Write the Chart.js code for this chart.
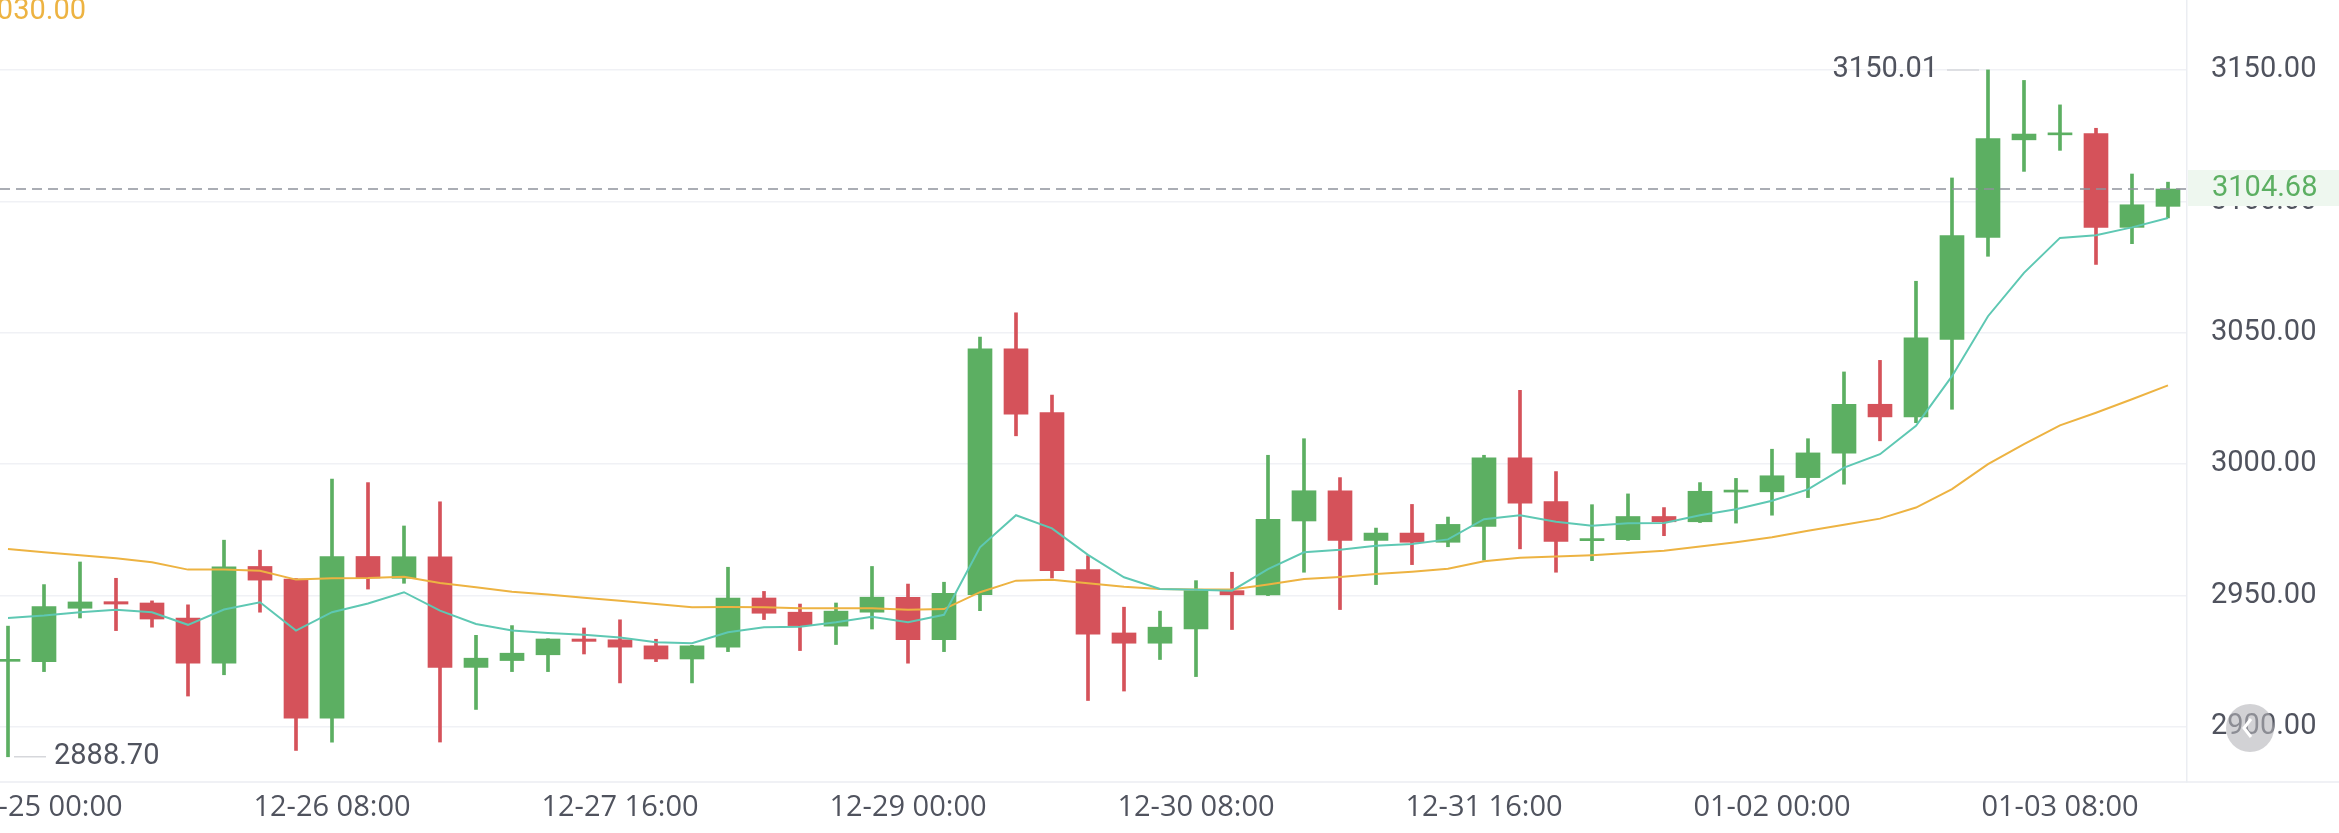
<!DOCTYPE html>
<html>
<head>
<meta charset="utf-8">
<title>K-line 4H</title>
<script src="https://cdn.jsdelivr.net/npm/chart.js@4.4.1/dist/chart.umd.min.js"></script>
<style>
  html, body { margin: 0; padding: 0; background: #fff; overflow: hidden; }
</style>
</head>
<body>
<canvas id="kline" width="2339" height="833"></canvas>
<script>
    // 4h candles, 12-24 20:00 -> 01-03 20:00
    const times = [];
    const start = new Date(2023, 11, 24, 20, 0);
    for (let i = 0; i < 61; i++) {
        const d = new Date(start.getTime() + i * 4 * 3600 * 1000);
        const p = n => (n < 10 ? '0' : '') + n;
        times.push(`${p(d.getMonth() + 1)}-${p(d.getDate())} ${p(d.getHours())}:00`);
    }

    const opens = [
        2925.0, 2924.9, 2945.2, 2947.7, 2947.2, 2941.5, 2924.3, 2961.1, 2956.3, 2903.4,
        2964.9, 2956.6, 2964.8, 2922.7, 2925.3, 2927.5, 2933.5, 2933.2, 2930.9, 2925.9,
        2930.4, 2949.1, 2943.7, 2938.4, 2943.7, 2949.4, 2933.2, 2950.4, 3043.9, 3019.6,
        2959.9, 2935.8, 2931.9, 2937.3, 2951.9, 2950.3, 2978.4, 2989.9, 2971.0, 2973.8,
        2970.3, 2976.3, 3002.4, 2985.8, 2970.9, 2971.3, 2980.1, 2978.1, 2989.4, 2989.5,
        2994.9, 3004.2, 3022.8, 3018.0, 3047.5, 3086.3, 3123.4, 3125.3, 3125.8, 3090.1,
        3098.1
    ];
    const highs = [
        2938.4, 2954.2, 2962.8, 2956.6, 2948.0, 2946.5, 2971.1, 2967.3, 2956.5, 2994.3,
        2993.0, 2976.5, 2985.7, 2934.9, 2938.6, 2933.6, 2937.7, 2940.8, 2933.4, 2931.1,
        2960.8, 2951.6, 2946.8, 2947.2, 2961.1, 2954.4, 2955.1, 3048.4, 3057.6, 3026.3,
        2965.2, 2945.6, 2944.1, 2955.7, 2958.9, 3003.4, 3009.7, 2994.9, 2975.7, 2984.7,
        2979.9, 3003.4, 3028.1, 2997.2, 2984.6, 2988.7, 2983.5, 2993.0, 2994.6, 3005.7,
        3009.7, 3035.1, 3039.5, 3069.6, 3108.9, 3150.01, 3146.0, 3136.7, 3127.8, 3110.4,
        3107.3
    ];
    const lows = [
        2888.70, 2921.1, 2941.5, 2936.7, 2938.0, 2911.8, 2919.9, 2943.7, 2891.1, 2894.3,
        2952.5, 2954.7, 2894.3, 2906.7, 2921.1, 2921.1, 2927.8, 2916.8, 2924.9, 2916.8,
        2928.7, 2940.9, 2929.1, 2931.4, 2937.3, 2924.3, 2928.7, 2944.3, 3010.8, 2956.7,
        2910.1, 2913.7, 2925.7, 2919.2, 2937.1, 2950.0, 2958.9, 2944.7, 2954.2, 2961.8,
        2968.6, 2963.5, 2967.8, 2958.9, 2963.3, 2971.0, 2972.8, 2977.8, 2977.6, 2980.6,
        2987.3, 2992.4, 3008.9, 3015.8, 3020.9, 3079.1, 3111.4, 3119.4, 3076.0, 3083.9,
        3093.7
    ];
    const closes = [
        2925.4, 2945.8, 2947.6, 2946.8, 2941.1, 2924.3, 2961.0, 2955.9, 2903.4, 2964.9,
        2956.7, 2964.8, 2922.7, 2926.2, 2928.1, 2933.5, 2932.6, 2930.4, 2925.9, 2930.9,
        2949.1, 2943.3, 2938.6, 2944.1, 2949.4, 2933.2, 2950.9, 3043.9, 3019.0, 2959.5,
        2935.3, 2931.9, 2938.0, 2951.9, 2950.3, 2979.0, 2989.9, 2971.0, 2973.8, 2970.3,
        2977.1, 3002.4, 2985.2, 2970.6, 2971.7, 2980.1, 2978.1, 2989.7, 2989.9, 2995.6,
        3004.3, 3022.8, 3018.0, 3048.1, 3087.0, 3123.9, 3125.6, 3125.8, 3090.1, 3098.7,
        3104.68
    ];
    // moving averages
    const maFast = [
        2941.5, 2942.4, 2943.7, 2944.6, 2943.7, 2938.9, 2944.7, 2947.5, 2936.7, 2943.7,
        2947.0, 2951.3, 2944.3, 2939.2, 2936.7, 2935.8, 2935.1, 2934.1, 2932.3, 2931.9,
        2936.1, 2938.0, 2938.2, 2939.9, 2942.0, 2939.9, 2942.7, 2968.4, 2980.6, 2975.6,
        2965.5, 2957.0, 2952.5, 2952.2, 2951.9, 2960.1, 2966.5, 2967.5, 2969.0, 2969.6,
        2971.4, 2979.1, 2980.6, 2978.1, 2976.6, 2977.5, 2977.6, 2980.6, 2982.9, 2986.1,
        2990.4, 2998.7, 3003.8, 3014.6, 3033.5, 3056.3, 3072.8, 3086.1, 3087.1, 3090.1,
        3093.7
    ];
    const ma30 = [
        2967.7, 2966.5, 2965.4, 2964.2, 2962.7, 2959.9, 2959.9, 2959.5, 2956.1, 2956.6,
        2956.7, 2957.2, 2954.8, 2953.2, 2951.5, 2950.4, 2949.2, 2948.1, 2946.8, 2945.6,
        2945.7, 2945.6, 2945.2, 2945.2, 2945.2, 2944.6, 2944.9, 2951.3, 2955.7, 2956.0,
        2954.7, 2953.4, 2952.5, 2952.3, 2952.3, 2954.2, 2956.3, 2957.1, 2958.2, 2959.1,
        2960.2, 2963.1, 2964.4, 2964.9, 2965.4, 2966.2, 2967.1, 2968.7, 2970.3, 2972.2,
        2974.7, 2977.0, 2979.3, 2983.5, 2990.5, 3000.0, 3007.6, 3014.8, 3019.6, 3024.7,
        3030.0
    ];
    const yTicks = [2900, 2950, 3000, 3050, 3100, 3150];

    const UP = '#5CAF62';
    const DOWN = '#D5525A';
    const TEAL = '#5EC8B3';
    const ORANGE = '#EDB342';
    const TEXT = '#50535E';
    const FONT = { family: 'Roboto, "Noto Sans", sans-serif', size: 29 };
    const XFONT = { family: '"Open Sans", Roboto, sans-serif', size: 29 };

    const candleColor = i => closes[i] >= opens[i] ? UP : DOWN;
    const lastPrice = closes[closes.length - 1];

    function fontStr() {
        return `${FONT.size}px ${FONT.family}`;
    }

    const overlay = {
        id: 'overlay',
        afterDraw(chart) {
            const ctx = chart.ctx;
            const area = chart.chartArea;
            const xs = chart.scales.x;
            const ys = chart.scales.y;
            ctx.save();

            // bottom rule across the whole width
            ctx.strokeStyle = '#EBEDF2';
            ctx.lineWidth = 1.5;
            ctx.beginPath();
            ctx.moveTo(0, area.bottom);
            ctx.lineTo(chart.width, area.bottom);
            ctx.stroke();

            // last price
            const py = ys.getPixelForValue(lastPrice);
            ctx.setLineDash([10, 6]);
            ctx.strokeStyle = '#8E929C';
            ctx.beginPath();
            ctx.moveTo(0, py);
            ctx.lineTo(area.right, py);
            ctx.stroke();
            ctx.setLineDash([]);
            ctx.fillStyle = '#EEF7EF';
            ctx.fillRect(area.right + 1, py - 19, chart.width - area.right, 36);
            ctx.font = fontStr();
            ctx.textBaseline = 'middle';
            ctx.textAlign = 'left';
            ctx.fillStyle = UP;
            ctx.fillText(lastPrice.toFixed(2), area.right + 25, py);

            // highest / lowest markers
            const hi = highs.indexOf(Math.max(...highs));
            const lo = lows.indexOf(Math.min(...lows));
            ctx.strokeStyle = '#D6D7DB';
            ctx.fillStyle = TEXT;
            let x = xs.getPixelForValue(hi), y = ys.getPixelForValue(highs[hi]);
            ctx.beginPath(); ctx.moveTo(x - 41, y); ctx.lineTo(x - 9, y); ctx.stroke();
            ctx.textAlign = 'right';
            ctx.fillText(highs[hi].toFixed(2), x - 50, y);
            x = xs.getPixelForValue(lo); y = ys.getPixelForValue(lows[lo]);
            ctx.beginPath(); ctx.moveTo(x + 6, y); ctx.lineTo(x + 38, y); ctx.stroke();
            ctx.textAlign = 'left';
            ctx.fillText(lows[lo].toFixed(2), x + 46, y);

            // MA30 value, cut at the left edge
            ctx.textAlign = 'right';
            ctx.fillStyle = ORANGE;
            ctx.fillText(ma30[ma30.length - 1].toFixed(2), 86, 12);

            // scroll-back button
            ctx.fillStyle = 'rgba(180, 180, 185, 0.6)';
            ctx.beginPath();
            ctx.arc(2250, 728, 24, 0, Math.PI * 2);
            ctx.fill();
            ctx.strokeStyle = '#ffffff';
            ctx.lineWidth = 3;
            ctx.beginPath();
            ctx.moveTo(2251, 719); ctx.lineTo(2244, 728); ctx.lineTo(2251, 737);
            ctx.stroke();
            ctx.restore();
        }
    };

    const ctx = document.getElementById('kline').getContext('2d');
    new Chart(ctx, {
        type: 'bar',
        data: {
            datasets: [
                {
                    type: 'line',
                    data: maFast.map((v, i) => ({ x: i, y: v })),
                    borderColor: TEAL,
                    borderWidth: 2,
                    pointRadius: 0,
                    tension: 0,
                    order: 0
                },
                {
                    type: 'line',
                    data: ma30.map((v, i) => ({ x: i, y: v })),
                    borderColor: ORANGE,
                    borderWidth: 2,
                    pointRadius: 0,
                    tension: 0,
                    order: 1
                },
                {
                    data: opens.map((o, i) => ({ x: i, y: [o, closes[i]] })),
                    backgroundColor: c => candleColor(c.dataIndex),
                    barThickness: 24,
                    minBarLength: 2,
                    grouped: false,
                    order: 2
                },
                {
                    data: lows.map((l, i) => ({ x: i, y: [l, highs[i]] })),
                    backgroundColor: c => candleColor(c.dataIndex),
                    barThickness: 3,
                    grouped: false,
                    order: 3
                }
            ]
        },
        options: {
            responsive: false,
            animation: false,
            layout: { padding: 0 },
            plugins: {
                legend: { display: false },
                tooltip: { enabled: false }
            },
            scales: {
                x: {
                    type: 'linear',
                    offset: false,
                    min: -0.2222,
                    max: 60.528,
                    grid: { display: false, drawTicks: false },
                    border: { display: false },
                    afterBuildTicks: s => {
                        s.ticks = times.map((t, i) => ({ value: i })).filter(t => t.value % 8 === 1);
                    },
                    ticks: {
                        autoSkip: false,
                        maxRotation: 0,
                        padding: 8,
                        color: TEXT,
                        font: XFONT,
                        callback: v => times[v]
                    },
                    afterFit: s => {
                        s.height = 51;
                        s.paddingLeft = 0;
                        s.paddingRight = 0;
                    }
                },
                y: {
                    position: 'right',
                    min: 2879.1,
                    max: 3176.6,
                    afterBuildTicks: s => {
                        s.ticks = yTicks.map(v => ({ value: v }));
                    },
                    grid: { color: '#F0F1F5', lineWidth: 1.5, drawTicks: false },
                    border: { color: '#EBEDF2', width: 1.5 },
                    ticks: {
                        padding: 24,
                        color: TEXT,
                        font: FONT,
                        callback: v => v.toFixed(2)
                    },
                    afterFit: s => {
                        s.width = 152;
                        s.paddingTop = 0;
                        s.paddingBottom = 0;
                    }
                }
            }
        },
        plugins: [overlay]
    });
</script>
</body>
</html>
